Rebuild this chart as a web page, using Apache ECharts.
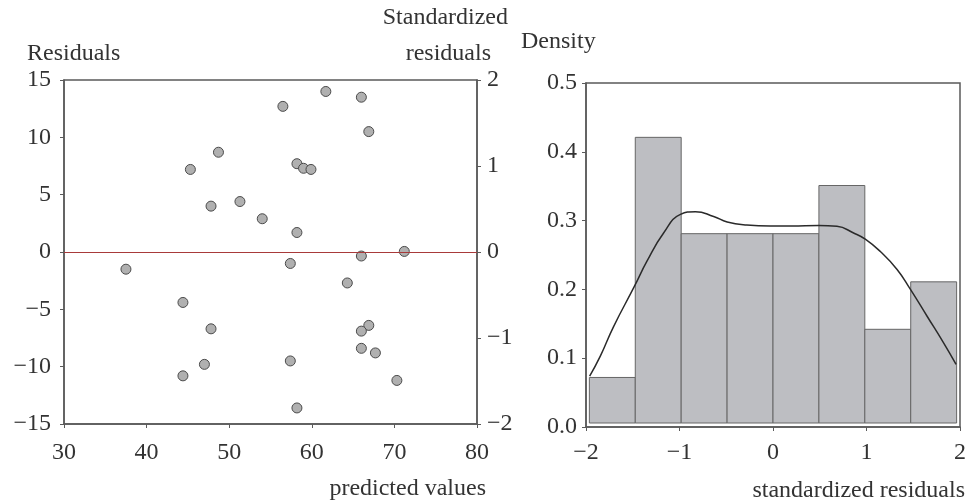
<!DOCTYPE html>
<html>
<head>
<meta charset="utf-8">
<style>
  html, body { margin: 0; padding: 0; background: #fff; }
  #main { width: 969px; height: 504px; }
</style>
<script src="https://cdn.jsdelivr.net/npm/echarts@6/dist/echarts.min.js"></script>
</head>
<body>
<div id="main"></div>
<script>
// residuals vs predicted values
const predicted = [45.3, 48.7, 47.8, 51.3, 54.0, 56.5, 58.2, 59.0, 59.9, 58.2, 61.7, 66.0, 66.9, 71.2,
  37.5, 57.4, 66.0, 64.3, 44.4, 47.8, 66.9, 66.0, 66.0, 67.7, 47.0, 57.4, 44.4, 70.3, 58.2];
const residuals = [7.2, 8.7, 4.0, 4.4, 2.9, 12.7, 7.7, 7.3, 7.2, 1.7, 14.0, 13.5, 10.5, 0.05,
  -1.5, -1.0, -0.35, -2.7, -4.4, -6.7, -6.4, -6.9, -8.4, -8.8, -9.8, -9.5, -10.8, -11.2, -13.6];

// histogram of standardized residuals
const binEdges = [-1.964, -1.473, -0.982, -0.491, 0, 0.491, 0.982, 1.473, 1.964];
const binDensity = [0.072, 0.421, 0.281, 0.281, 0.281, 0.351, 0.142, 0.211];

// density curve
const curveX = [-1.961, -1.847, -1.705, -1.48, -1.348, -1.17, -0.99, -0.83, -0.635, -0.49, -0.28, -0.03,
  0.2, 0.488, 0.684, 0.862, 0.987, 1.148, 1.327, 1.47, 1.648, 1.826, 1.958];
const curveY = [0.074, 0.103, 0.146, 0.205, 0.241, 0.282, 0.309, 0.313, 0.306, 0.298, 0.2935, 0.292,
  0.292, 0.293, 0.2917, 0.282, 0.273, 0.255, 0.229, 0.2, 0.161, 0.122, 0.091];

const FONT = '"Liberation Serif", "DejaVu Serif", serif';
const FS = 24;
const TXT = '#333';
const AX = '#5a5a5a';
const minus = (v) => String(v).replace('-', '\u2212');

const scatterData = predicted.map((x, i) => [x, residuals[i]]);
const barData = binDensity.map((h, i) => [binEdges[i], binEdges[i + 1], h]);
const curveData = curveX.map((x, i) => [x, curveY[i]]);

function axisBase(extra) {
  return Object.assign({
    type: 'value',
    splitLine: { show: false },
    axisLine: { show: true, onZero: false, lineStyle: { color: AX, width: 1.5 } },
    axisTick: { show: true, length: 4, lineStyle: { color: AX, width: 1 } }
  }, extra);
}
function label(margin, formatter) {
  return { color: TXT, fontFamily: FONT, fontSize: FS, margin: margin, formatter: formatter };
}

const chart = echarts.init(document.getElementById('main'));
chart.setOption({
  animation: false,
  textStyle: { fontFamily: FONT },
  grid: [
    { left: 64, top: 80, right: 492, bottom: 80, show: true, borderColor: AX, borderWidth: 1.5 },
    { left: 586, top: 83, right: 8, bottom: 77, show: true, borderColor: AX, borderWidth: 1.5 }
  ],
  xAxis: [
    axisBase({ gridIndex: 0, min: 30, max: 80, interval: 10, axisLabel: label(17, minus) }),
    axisBase({ gridIndex: 1, min: -2, max: 2, interval: 1, axisLabel: label(14, minus) })
  ],
  yAxis: [
    axisBase({ gridIndex: 0, min: -15, max: 15, interval: 5, position: 'left', axisLabel: label(13, minus) }),
    axisBase({ gridIndex: 0, min: -2, max: 2, interval: 1, position: 'right', axisLabel: label(10, minus) }),
    axisBase({ gridIndex: 1, min: 0, max: 0.5, interval: 0.1, axisLabel: label(9, (v) => v.toFixed(1)) })
  ],
  series: [
    {
      type: 'scatter',
      xAxisIndex: 0, yAxisIndex: 0,
      data: scatterData,
      symbolSize: 10,
      itemStyle: { color: '#b0b0b0', borderColor: '#4a4a4a', borderWidth: 1, opacity: 1 },
      markLine: {
        silent: true, symbol: 'none', label: { show: false },
        lineStyle: { color: '#a83a3a', width: 1.2, type: 'solid' },
        data: [{ yAxis: 0 }]
      },
      z: 3
    },
    {
      type: 'custom',
      xAxisIndex: 1, yAxisIndex: 2,
      data: barData,
      renderItem: function (params, api) {
        const p0 = api.coord([api.value(0), api.value(2)]);
        const p1 = api.coord([api.value(1), 0]);
        return {
          type: 'rect',
          shape: { x: p0[0], y: p0[1], width: p1[0] - p0[0], height: p1[1] - p0[1] - 4 },
          style: { fill: '#bdbec2', stroke: '#666', lineWidth: 1 }
        };
      },
      z: 2
    },
    {
      type: 'line',
      xAxisIndex: 1, yAxisIndex: 2,
      data: curveData,
      smooth: true,
      showSymbol: false,
      lineStyle: { color: '#2a2a2a', width: 1.5 },
      z: 4
    }
  ],
  graphic: [
    { type: 'text', left: 27, top: 42, style: { text: 'Residuals', font: FS + 'px ' + FONT, fill: TXT } },
    { type: 'text', right: 969 - 508, top: 6, style: { text: 'Standardized', font: FS + 'px ' + FONT, fill: TXT } },
    { type: 'text', right: 969 - 491, top: 42, style: { text: 'residuals', font: FS + 'px ' + FONT, fill: TXT } },
    { type: 'text', left: 521, top: 30, style: { text: 'Density', font: FS + 'px ' + FONT, fill: TXT } },
    { type: 'text', right: 969 - 486, top: 477, style: { text: 'predicted values', font: FS + 'px ' + FONT, fill: TXT } },
    { type: 'text', right: 4, top: 479, style: { text: 'standardized residuals', font: FS + 'px ' + FONT, fill: TXT } }
  ]
});
</script>
</body>
</html>
